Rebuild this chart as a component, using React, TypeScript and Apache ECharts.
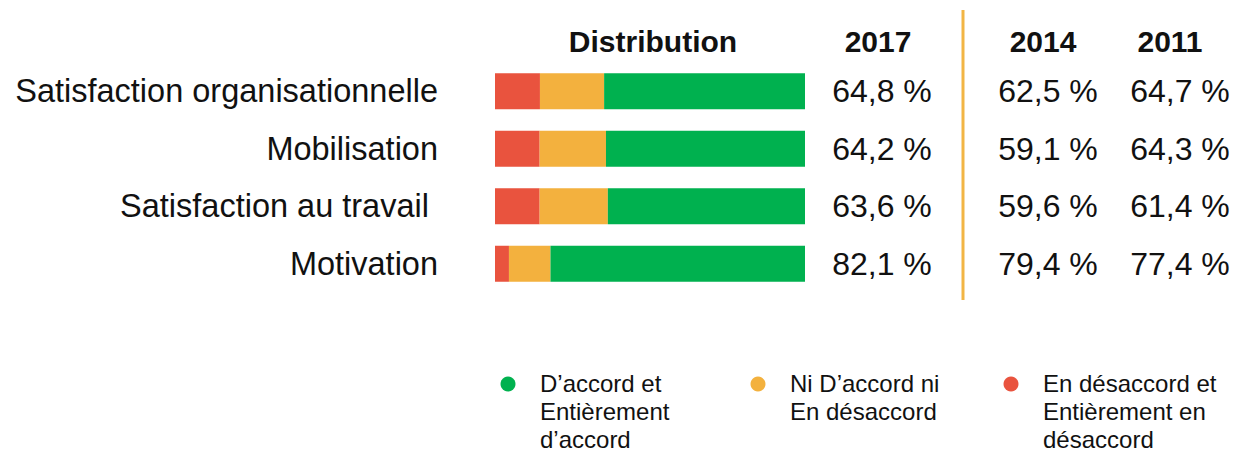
import React, { useEffect, useRef } from "react";
import * as echarts from "echarts";

const categories = [
  "Satisfaction organisationnelle",
  "Mobilisation",
  "Satisfaction au travail ",
  "Motivation",
];
const accord2017 = [64.8, 64.2, 63.6, 82.1];
const neutre2017 = [20.7, 21.4, 22.0, 13.4];
const desaccord2017 = [14.5, 14.4, 14.4, 4.5];
const values2014 = [62.5, 59.1, 59.6, 79.4];
const values2011 = [64.7, 64.3, 61.4, 77.4];
const columnHeaders = ["Distribution", "2017", "2014", "2011"];
const legendLabels = [
  "D’accord et\nEntièrement\nd’accord",
  "Ni D’accord ni\nEn désaccord",
  "En désaccord et\nEntièrement en\ndésaccord",
];

const GREEN = "#00B14F";
const ORANGE = "#F3B13E";
const RED = "#E9533E";
const FONT = "'Liberation Sans', Arial, Helvetica, sans-serif";

const fmt = (v: number) => v.toFixed(1).replace(".", ",") + " %";

export default function App() {
  const ref = useRef<HTMLDivElement>(null);
  useEffect(() => {
    if (!ref.current) return;
    const chart = echarts.init(ref.current, undefined, { renderer: "svg" });
    const valueAxis = (data: string[], offset: number) => ({
      type: "category",
      data,
      inverse: true,
      position: "right",
      offset,
      axisLine: { show: false },
      axisTick: { show: false },
      splitLine: { show: false },
      axisLabel: {
        margin: 0,
        align: "center",
        fontSize: 32,
        fontFamily: FONT,
        color: "#111",
      },
    });
    const legendColors = [GREEN, ORANGE, RED];
    const legendX = [508, 758, 1011];
    const headerX = [653, 878, 1043, 1170];
    chart.setOption({
      animation: false,
      textStyle: { fontFamily: FONT },
      grid: { left: 495, width: 310, top: 62.5, height: 230 },
      xAxis: { type: "value", min: 0, max: 100, show: false },
      yAxis: [
        {
          type: "category",
          data: categories,
          inverse: true,
          axisLine: { show: false },
          axisTick: { show: false },
          axisLabel: {
            margin: 57,
            fontSize: 32.5,
            fontFamily: FONT,
            color: "#111",
          },
        },
        valueAxis(accord2017.map(fmt), 77),
        valueAxis(values2014.map(fmt), 243),
        valueAxis(values2011.map(fmt), 375),
      ],
      series: [
        {
          name: legendLabels[2],
          type: "bar",
          stack: "d",
          data: desaccord2017,
          barWidth: 36,
          itemStyle: { color: RED },
        },
        {
          name: legendLabels[1],
          type: "bar",
          stack: "d",
          data: neutre2017,
          barWidth: 36,
          itemStyle: { color: ORANGE },
        },
        {
          name: legendLabels[0],
          type: "bar",
          stack: "d",
          data: accord2017,
          barWidth: 36,
          itemStyle: { color: GREEN },
        },
      ],
      graphic: [
        {
          type: "line",
          shape: { x1: 963, y1: 10, x2: 963, y2: 300 },
          style: { stroke: "#F2B544", lineWidth: 3 },
        },
        ...columnHeaders.map((h, i) => ({
          type: "text",
          x: headerX[i],
          y: 41,
          style: {
            text: h,
            fontSize: 30,
            fontWeight: "bold",
            fontFamily: FONT,
            fill: "#111",
            textAlign: "center",
            textVerticalAlign: "middle",
          },
        })),
        ...legendLabels.map((l, i) => ({
          type: "group",
          children: [
            {
              type: "circle",
              shape: { cx: legendX[i], cy: 384, r: 7.5 },
              style: { fill: legendColors[i] },
            },
            {
              type: "text",
              x: legendX[i] + 32,
              y: 369,
              style: {
                text: l,
                fontSize: 24,
                lineHeight: 28,
                fontFamily: FONT,
                fill: "#111",
                textAlign: "left",
                textVerticalAlign: "top",
              },
            },
          ],
        })),
      ],
    });
    return () => chart.dispose();
  }, []);
  return (
    <div
      ref={ref}
      style={{ position: "fixed", left: 0, top: 0, width: 1244, height: 454, background: "#fff" }}
    />
  );
}
